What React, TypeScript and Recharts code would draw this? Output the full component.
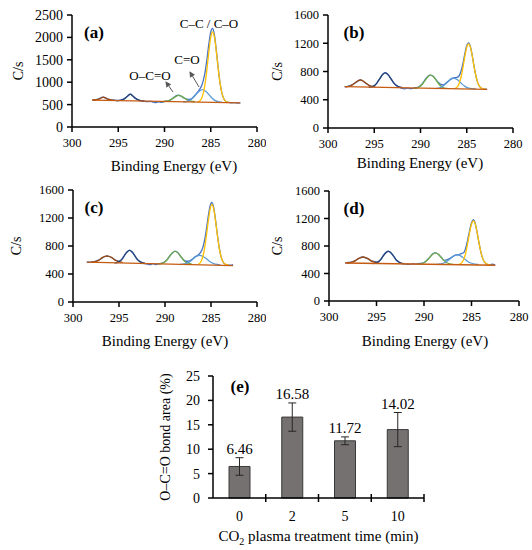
import React from "react";
import {
  Bar,
  BarChart,
  ErrorBar,
  Label,
  LabelList,
  Line,
  LineChart,
  XAxis,
  YAxis,
} from "recharts";

type Pt = [number, number];

// binding energy (eV) / counts per second
const energyTicks = [280, 285, 290, 295, 300];
const countTicksA = [0, 500, 1000, 1500, 2000, 2500];
const countTicksB = [0, 400, 800, 1200, 1600];

// (a) untreated
const aRaw: Pt[] = [
  [297.8, 598], [297.5, 608], [297.2, 622], [297.0, 640], [296.8, 660], [296.6, 668],
  [296.4, 650], [296.2, 628], [296.0, 615], [295.7, 603], [295.4, 598], [295.0, 596],
  [294.8, 600], [294.5, 615], [294.2, 655], [293.95, 700], [293.7, 735], [293.45, 698],
  [293.2, 648], [292.9, 612], [292.6, 590], [292.2, 575], [291.8, 568], [291.5, 570],
  [291.2, 555], [290.9, 545], [290.6, 560], [290.3, 552], [290.0, 570], [289.7, 580],
  [289.4, 600], [289.1, 640], [288.8, 690], [288.5, 712], [288.2, 688], [287.9, 650],
  [287.6, 620], [287.3, 615], [287.0, 643], [286.7, 708], [286.4, 782], [286.2, 841],
  [286.0, 917], [285.8, 1040], [285.6, 1242], [285.4, 1529], [285.2, 1861], [285.0, 2122],
  [284.8, 2201], [284.6, 2049], [284.4, 1717], [284.2, 1329], [284.0, 991], [283.8, 763],
  [283.6, 635], [283.4, 578], [283.2, 556], [283.0, 548], [282.7, 540], [282.4, 545],
  [282.1, 535], [281.8, 537],
];
const aCC: Pt[] = [
  [286.4, 559], [286.2, 581], [286.0, 637], [285.8, 760], [285.6, 985], [285.4, 1310],
  [285.2, 1690], [285.0, 1999], [284.8, 2120], [284.6, 1999], [284.4, 1689], [284.2, 1314],
  [284.0, 984], [283.8, 760], [283.6, 635], [283.4, 578], [283.2, 556], [283.0, 549],
];
const aCO: Pt[] = [
  [288.0, 559], [287.65, 568], [287.3, 594], [286.95, 647], [286.6, 725], [286.25, 800],
  [285.9, 835], [285.55, 800], [285.2, 723], [284.85, 644], [284.5, 590], [284.15, 563],
  [283.8, 553],
];
const aOCO: Pt[] = [
  [290.2, 568], [289.8, 575], [289.45, 597], [289.1, 637], [288.8, 679], [288.45, 706],
  [288.1, 679], [287.8, 637], [287.45, 597], [287.1, 575], [286.7, 566],
];
const aPeak294: Pt[] = [
  [295.2, 585], [294.8, 592], [294.5, 612], [294.2, 650], [293.95, 695], [293.7, 733],
  [293.45, 695], [293.2, 650], [292.9, 612], [292.6, 590], [292.2, 583],
];
const aPeak297: Pt[] = [
  [297.8, 601], [297.4, 608], [297.2, 615], [297.0, 628], [296.8, 652], [296.6, 668],
  [296.4, 652], [296.2, 628], [296.0, 615], [295.8, 606], [295.4, 596],
];
const aBase: Pt[] = [[297.8, 600], [281.8, 537]];

// (b) 2 min
const bRaw: Pt[] = [
  [298.2, 584], [297.9, 590], [297.6, 600], [297.3, 620], [297.0, 645], [296.7, 670],
  [296.5, 682], [296.2, 662], [295.9, 632], [295.6, 606], [295.3, 590], [295.0, 592],
  [294.7, 640], [294.4, 700], [294.1, 758], [293.8, 782], [293.5, 752], [293.2, 698],
  [292.9, 638], [292.6, 600], [292.3, 578], [292.0, 560], [291.7, 555], [291.4, 566],
  [291.1, 558], [290.8, 562], [290.5, 570], [290.2, 580], [289.9, 612], [289.6, 665],
  [289.3, 718], [289.0, 748], [288.7, 740], [288.4, 700], [288.1, 648], [287.8, 616],
  [287.5, 612], [287.2, 640], [286.9, 674], [286.6, 702], [286.3, 712], [286.0, 719],
  [285.8, 746], [285.6, 811], [285.4, 921], [285.2, 1055], [285.0, 1166], [284.8, 1205],
  [284.6, 1150], [284.4, 1021], [284.2, 864], [284.0, 730], [283.8, 637], [283.6, 587],
  [283.3, 557], [283.0, 550], [282.8, 548],
];
const bCC: Pt[] = [
  [286.3, 558], [286.0, 587], [285.8, 637], [285.6, 729], [285.4, 863], [285.2, 1016],
  [285.0, 1142], [284.8, 1191], [284.6, 1142], [284.4, 1016], [284.2, 863], [284.0, 729],
  [283.8, 637], [283.6, 587], [283.3, 558], [283.0, 551],
];
const bCO: Pt[] = [
  [288.4, 558], [288.0, 566], [287.6, 590], [287.2, 633], [286.8, 682], [286.4, 705],
  [286.0, 682], [285.6, 633], [285.2, 590], [284.8, 566], [284.4, 557], [284.0, 553],
];
const bOCO: Pt[] = [
  [290.7, 560], [290.4, 566], [290.1, 584], [289.8, 620], [289.5, 675], [289.2, 727],
  [288.9, 750], [288.6, 727], [288.3, 675], [288.0, 620], [287.7, 584], [287.4, 566],
  [287.1, 560],
];
const bPeak294: Pt[] = [
  [295.6, 575], [295.3, 582], [295.0, 601], [294.7, 640], [294.4, 699], [294.1, 756],
  [293.8, 780], [293.5, 756], [293.2, 699], [292.9, 640], [292.6, 601], [292.3, 582],
  [292.0, 575],
];
const bPeak297: Pt[] = [
  [298.1, 583], [297.7, 591], [297.4, 608], [297.1, 635], [296.8, 665], [296.5, 680],
  [296.2, 665], [295.9, 635], [295.6, 608], [295.3, 591], [294.9, 583],
];
const bBase: Pt[] = [[298.2, 585], [282.8, 548]];

// (c) 5 min
const cRaw: Pt[] = [
  [298.5, 570], [298.2, 568], [297.9, 575], [297.6, 582], [297.3, 595], [297.0, 615],
  [296.7, 640], [296.4, 656], [296.1, 652], [295.8, 635], [295.5, 608], [295.2, 590],
  [294.95, 582], [294.65, 615], [294.4, 668], [294.1, 720], [293.85, 742], [293.6, 718],
  [293.3, 662], [293.05, 612], [292.75, 578], [292.5, 560], [292.2, 548], [291.9, 540],
  [291.6, 535], [291.3, 548], [291.0, 535], [290.7, 545], [290.4, 552], [290.1, 568],
  [289.8, 602], [289.5, 655], [289.2, 700], [288.9, 728], [288.6, 705], [288.3, 650],
  [288.0, 605], [287.7, 582], [287.4, 585], [287.1, 605], [286.8, 640], [286.5, 662],
  [286.2, 697], [285.9, 773], [285.7, 880], [285.5, 1039], [285.3, 1223], [285.1, 1374],
  [284.9, 1424], [284.7, 1345], [284.5, 1165], [284.3, 955], [284.1, 772], [283.9, 644],
  [283.7, 576], [283.5, 544], [283.2, 530], [282.9, 525], [282.6, 533],
];
const cCC: Pt[] = [
  [286.4, 537], [286.1, 575], [285.9, 643], [285.7, 767], [285.5, 947], [285.3, 1153],
  [285.1, 1324], [284.9, 1390], [284.7, 1324], [284.5, 1153], [284.3, 947], [284.1, 767],
  [283.9, 643], [283.7, 575], [283.4, 537], [283.1, 528],
];
const cCO: Pt[] = [
  [288.45, 535], [288.1, 540], [287.7, 552], [287.3, 577], [286.95, 614], [286.6, 651],
  [286.2, 667], [285.85, 650], [285.45, 614], [285.1, 575], [284.7, 549], [284.3, 537],
  [284.0, 532],
];
const cOCO: Pt[] = [
  [290.7, 544], [290.4, 550], [290.1, 565], [289.8, 600], [289.5, 652], [289.2, 702],
  [288.9, 724], [288.6, 702], [288.3, 652], [288.0, 600], [287.7, 565], [287.4, 550],
  [287.1, 543],
];
const cPeak294: Pt[] = [
  [295.5, 558], [295.2, 564], [294.95, 580], [294.65, 615], [294.4, 666], [294.1, 717],
  [293.85, 738], [293.6, 717], [293.3, 666], [293.05, 615], [292.75, 580], [292.5, 564],
  [292.2, 557],
];
const cPeak297: Pt[] = [
  [298.0, 567], [297.7, 572], [297.4, 585], [297.1, 604], [296.85, 630], [296.55, 650],
  [296.3, 657], [296.05, 650], [295.75, 630], [295.5, 604], [295.2, 585], [294.9, 572],
  [294.6, 566],
];
const cBase: Pt[] = [[298.5, 571], [282.6, 520]];

// (d) 10 min
const dRaw: Pt[] = [
  [298.3, 552], [298.0, 560], [297.7, 565], [297.4, 578], [297.1, 600], [296.8, 625],
  [296.5, 640], [296.2, 632], [295.9, 612], [295.6, 588], [295.3, 575], [295.0, 570],
  [294.8, 572], [294.55, 605], [294.3, 660], [294.0, 708], [293.75, 725], [293.5, 705],
  [293.2, 652], [292.95, 600], [292.65, 566], [292.4, 548], [292.1, 540], [291.8, 535],
  [291.5, 532], [291.2, 540], [290.9, 537], [290.6, 545], [290.3, 548], [290.0, 560],
  [289.7, 590], [289.4, 635], [289.1, 682], [288.8, 700], [288.5, 680], [288.2, 638],
  [287.9, 592], [287.6, 597], [287.3, 616], [287.0, 644], [286.7, 666], [286.4, 673],
  [286.1, 690], [285.8, 707], [285.6, 776], [285.4, 889], [285.2, 1025], [285.0, 1137],
  [284.8, 1182], [284.6, 1123], [284.4, 992], [284.2, 838], [284.0, 704], [283.8, 611],
  [283.6, 561], [283.3, 530], [283.0, 528], [282.8, 535], [282.5, 520],
];
const dCC: Pt[] = [
  [286.3, 533], [286.0, 562], [285.8, 612], [285.6, 704], [285.4, 838], [285.2, 991],
  [285.0, 1117], [284.8, 1166], [284.6, 1117], [284.4, 991], [284.2, 838], [284.0, 704],
  [283.8, 612], [283.6, 562], [283.3, 533], [283.0, 526],
];
const dCO: Pt[] = [
  [288.75, 532], [288.4, 536], [288.0, 549], [287.6, 575], [287.25, 615], [286.9, 653],
  [286.5, 670], [286.1, 653], [285.75, 615], [285.4, 575], [285.0, 549], [284.6, 536],
  [284.25, 531],
];
const dOCO: Pt[] = [
  [290.6, 536], [290.3, 541], [290.0, 556], [289.7, 588], [289.4, 634], [289.1, 679],
  [288.8, 699], [288.5, 679], [288.2, 634], [287.9, 588], [287.6, 556], [287.3, 541],
  [287.0, 536],
];
const dPeak294: Pt[] = [
  [295.4, 545], [295.1, 551], [294.85, 567], [294.55, 601], [294.3, 652], [294.0, 702],
  [293.75, 723], [293.5, 702], [293.2, 652], [292.95, 601], [292.65, 567], [292.4, 551],
  [292.1, 545],
];
const dPeak297: Pt[] = [
  [298.1, 551], [297.8, 555], [297.5, 568], [297.2, 587], [296.95, 612], [296.65, 632],
  [296.4, 640], [296.15, 632], [295.85, 612], [295.6, 587], [295.3, 568], [295.0, 555],
  [294.7, 550],
];
const dBase: Pt[] = [[298.3, 553], [282.5, 520]];

// (e) O-C=O share vs treatment time
const treatTimes = ["0", "2", "5", "10"];
const ocoArea = [6.46, 16.58, 11.72, 14.02];
const ocoErr = [1.8, 2.9, 0.8, 3.5];
const areaTicks = [0, 5, 10, 15, 20, 25];

const FONT = '"Liberation Serif", "Times New Roman", serif';

const COLORS = {
  raw: "#4472C4",
  cc: "#FFC000",
  co: "#5B9BD5",
  oco: "#70AD47",
  p294: "#264478",
  p297: "#9E480E",
  base: "#C55A11",
};

const toXY = (pts: Pt[]) => pts.map(([x, y]) => ({ x, y }));

function BottomTick(props: any) {
  return (
    <text x={props.x} y={props.y} dy="0.71em" textAnchor="middle" fontSize={props.sz} fill="#000" fontFamily={FONT}>
      {props.payload.value}
    </text>
  );
}

function LeftTick(props: any) {
  return (
    <text x={props.x} y={props.y} dy="0.35em" textAnchor="end" fontSize={props.sz} fill="#000" fontFamily={FONT}>
      {props.payload.value}
    </text>
  );
}

function LeftTitle(props: any) {
  const vb = props.viewBox;
  const cx = vb.x + props.gap;
  const cy = vb.y + vb.height / 2;
  return (
    <text
      x={cx}
      y={cy}
      dy="0.35em"
      transform={`rotate(-90 ${cx} ${cy})`}
      textAnchor="middle"
      fontSize={14}
      fill="#000"
      fontFamily={FONT}
    >
      {props.title}
    </text>
  );
}

type PanelProps = {
  left: number;
  top: number;
  width: number;
  height: number;
  margin: { top: number; right: number; bottom: number; left: number };
  yWidth: number;
  xHeight: number;
  yMax: number;
  yTicks: number[];
  yFont: number;
  yLabelX: number;
  raw: Pt[];
  cc: Pt[];
  co: Pt[];
  oco: Pt[];
  p294: Pt[];
  p297: Pt[];
  base: Pt[];
};

function XpsPanel(p: PanelProps) {
  const series = [
    { key: "raw", pts: p.raw, color: COLORS.raw },
    { key: "p297", pts: p.p297, color: COLORS.p297 },
    { key: "p294", pts: p.p294, color: COLORS.p294 },
    { key: "oco", pts: p.oco, color: COLORS.oco },
    { key: "co", pts: p.co, color: COLORS.co },
    { key: "cc", pts: p.cc, color: COLORS.cc },
    { key: "base", pts: p.base, color: COLORS.base },
  ];
  return (
    <div style={{ position: "absolute", left: p.left, top: p.top }}>
      <LineChart width={p.width} height={p.height} margin={p.margin}>
        <XAxis
          type="number"
          dataKey="x"
          domain={[280, 300]}
          reversed
          allowDataOverflow
          ticks={energyTicks}
          interval={0}
          height={p.xHeight}
          stroke="#000"
          strokeWidth={1.5}
          tickSize={5}
          tickMargin={6}
          tick={<BottomTick sz={12.5} />}
        />
        <YAxis
          type="number"
          domain={[0, p.yMax]}
          ticks={p.yTicks}
          interval={0}
          width={p.yWidth}
          stroke="#000"
          strokeWidth={1.5}
          tickSize={5}
          tickMargin={4}
          tick={<LeftTick sz={p.yFont} />}
        >
          <Label content={<LeftTitle title="C/s" gap={p.yLabelX} />} />
        </YAxis>
        {series.map((s) => (
          <Line
            key={s.key}
            data={toXY(s.pts)}
            dataKey="y"
            type="monotone"
            stroke={s.color}
            strokeWidth={1.3}
            dot={false}
            activeDot={false}
            isAnimationActive={false}
          />
        ))}
      </LineChart>
    </div>
  );
}

const barData = treatTimes.map((t, i) => ({ time: t, area: ocoArea[i], err: ocoErr[i] }));

const BAR_W = 350;
const BAR_MARGIN = { top: 11, right: 26, bottom: 9, left: 0 };
const BAR_YW = 113;
const BAND = (BAR_W - BAR_MARGIN.left - BAR_MARGIN.right - BAR_YW) / treatTimes.length;
const TICK_GAP = 13;

function TimeTick(props: any) {
  const { x, y, payload } = props;
  const axisY = y - TICK_GAP;
  const bx = x + BAND / 2;
  return (
    <g>
      <text x={x} y={y} dy="0.71em" textAnchor="middle" fontSize={14} fill="#000" fontFamily={FONT}>
        {payload.value}
      </text>
      <line x1={bx} x2={bx} y1={axisY - 4} y2={axisY + 4} stroke="#000" strokeWidth={1.5} />
    </g>
  );
}

function TimeLabel(props: any) {
  const vb = props.viewBox;
  return (
    <text
      x={vb.x + vb.width / 2}
      y={vb.y + vb.height}
      textAnchor="middle"
      fontSize={15}
      fill="#000"
      fontFamily={FONT}
    >
      CO
      <tspan fontSize={10} dy={4}>2</tspan>
      <tspan dy={-4}> plasma treatment time (min)</tspan>
    </text>
  );
}

function ValueLabel(props: any) {
  const vb = props.viewBox || {};
  const x = props.x ?? vb.x;
  const y = props.y ?? vb.y;
  const w = props.width ?? vb.width;
  const h = props.height ?? vb.height;
  const v = Number(props.value);
  const perUnit = h / v;
  const errTop = y - ocoErr[props.index] * perUnit;
  return (
    <text x={x + w / 2} y={errTop - 4} textAnchor="middle" fontSize={15} fill="#000" fontFamily={FONT}>
      {v.toFixed(2)}
    </text>
  );
}

function AreaBars() {
  return (
    <div style={{ position: "absolute", left: 100, top: 365 }}>
      <BarChart width={BAR_W} height={185} data={barData} margin={BAR_MARGIN}>
        <XAxis
          dataKey="time"
          height={43}
          interval={0}
          stroke="#000"
          strokeWidth={1.5}
          tickLine={false}
          tickSize={6}
          tickMargin={7}
          tick={<TimeTick />}
        >
          <Label content={<TimeLabel />} />
        </XAxis>
        <YAxis
          domain={[0, 25]}
          ticks={areaTicks}
          interval={0}
          width={BAR_YW}
          stroke="#000"
          strokeWidth={1.5}
          tickSize={5}
          tickMargin={8}
          tick={<LeftTick sz={14} />}
        >
          <Label content={<LeftTitle title="O–C=O bond area (%)" gap={65} />} />
        </YAxis>
        <Bar dataKey="area" fill="#767171" stroke="#3a3a3a" strokeWidth={1} barSize={21} isAnimationActive={false}>
          <ErrorBar dataKey="err" width={4} stroke="#262626" strokeWidth={1} />
          <LabelList dataKey="area" content={<ValueLabel />} />
        </Bar>
      </BarChart>
    </div>
  );
}

// x titles of the four spectra: [centre x, baseline y]
const energyTitlePos: [number, number][] = [
  [174, 171],
  [420, 168],
  [165, 346],
  [425, 346],
];

export default function App() {
  return (
    <div
      style={{
        position: "absolute",
        left: 0,
        top: 0,
        width: 532,
        height: 550,
        background: "#fff",
        fontFamily: FONT,
      }}
    >
      <XpsPanel
        left={0} top={0} width={266} height={185}
        margin={{ top: 15, right: 9, bottom: 12, left: 0 }}
        yWidth={72} xHeight={46} yMax={2500} yTicks={countTicksA} yFont={14} yLabelX={18}
        raw={aRaw} cc={aCC} co={aCO} oco={aOCO} p294={aPeak294} p297={aPeak297} base={aBase}
      />
      <XpsPanel
        left={266} top={0} width={266} height={175}
        margin={{ top: 15, right: 19, bottom: 7, left: 0 }}
        yWidth={62} xHeight={40} yMax={1600} yTicks={countTicksB} yFont={12.5} yLabelX={11}
        raw={bRaw} cc={bCC} co={bCO} oco={bOCO} p294={bPeak294} p297={bPeak297} base={bBase}
      />
      <XpsPanel
        left={0} top={175} width={266} height={190}
        margin={{ top: 15, right: 9, bottom: 18, left: 0 }}
        yWidth={73} xHeight={45} yMax={1600} yTicks={countTicksB} yFont={12.5} yLabelX={16}
        raw={cRaw} cc={cCC} co={cCO} oco={cOCO} p294={cPeak294} p297={cPeak297} base={cBase}
      />
      <XpsPanel
        left={266} top={175} width={266} height={190}
        margin={{ top: 16, right: 13, bottom: 18, left: 0 }}
        yWidth={63} xHeight={46} yMax={1600} yTicks={countTicksB} yFont={12.5} yLabelX={11}
        raw={dRaw} cc={dCC} co={dCO} oco={dOCO} p294={dPeak294} p297={dPeak297} base={dBase}
      />
      <AreaBars />
      <svg
        width={532}
        height={550}
        style={{ position: "absolute", left: 0, top: 0, pointerEvents: "none" }}
        fontFamily={FONT}
      >
        <defs>
          <marker id="head" markerWidth={6} markerHeight={6} refX={5} refY={3} orient="auto">
            <path d="M0,0 L6,3 L0,6 z" fill="#595959" />
          </marker>
        </defs>
        <g fontSize={15} textAnchor="middle" fill="#000">
          {energyTitlePos.map(([x, y], i) => (
            <text key={i} x={x} y={y}>Binding Energy (eV)</text>
          ))}
        </g>
        <g fontSize={17} fontWeight="bold" textAnchor="middle" fill="#000">
          <text x={94} y={38}>(a)</text>
          <text x={354} y={38}>(b)</text>
          <text x={94} y={213}>(c)</text>
          <text x={354} y={214}>(d)</text>
          <text x={240} y={392}>(e)</text>
        </g>
        <g fontSize={13} textAnchor="middle" fill="#000">
          <text x={209} y={28}>C–C / C–O</text>
          <text x={187} y={64}>C=O</text>
          <text x={150} y={80}>O–C=O</text>
        </g>
        <line x1={173} y1={92} x2={166} y2={82} stroke="#595959" strokeWidth={1} markerEnd="url(#head)" />
        <line x1={199} y1={87} x2={190} y2={72} stroke="#595959" strokeWidth={1} markerEnd="url(#head)" />
      </svg>
    </div>
  );
}
